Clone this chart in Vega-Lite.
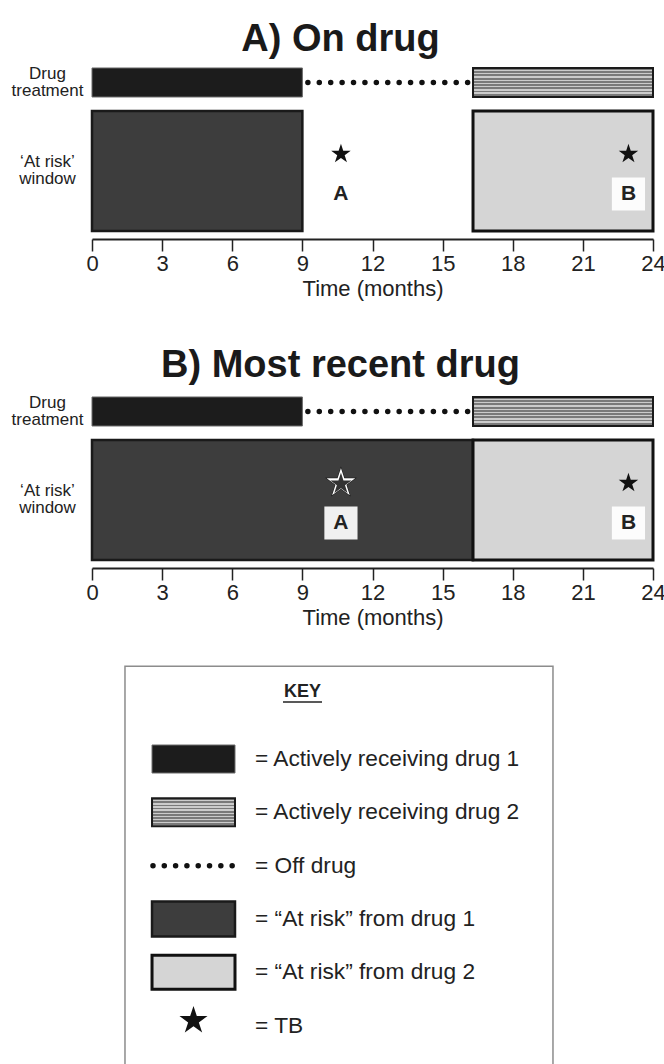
{
  "$schema": "https://vega.github.io/schema/vega-lite/v6.json",
  "background": "white",
  "padding": {"left": 11, "top": 21, "right": 0, "bottom": 0},
  "config": {
    "view": {"stroke": null},
    "font": "Liberation Sans",
    "text": {"font": "Liberation Sans", "color": "#222"},
    "title": {"font": "Liberation Sans"},
    "axis": {"labelFont": "Liberation Sans", "titleFont": "Liberation Sans"}
  },
  "datasets": {
    "periods": [
      {"panel": "A", "lane": "Drug treatment", "kind": "drug1", "month": 0, "until": 9},
      {"panel": "A", "lane": "Drug treatment", "kind": "off", "month": 9, "until": 16.3},
      {"panel": "A", "lane": "Drug treatment", "kind": "drug2", "month": 16.3, "until": 24},
      {"panel": "A", "lane": "At risk window", "kind": "risk1", "month": 0, "until": 9},
      {"panel": "A", "lane": "At risk window", "kind": "risk2", "month": 16.3, "until": 24},
      {"panel": "B", "lane": "Drug treatment", "kind": "drug1", "month": 0, "until": 9},
      {"panel": "B", "lane": "Drug treatment", "kind": "off", "month": 9, "until": 16.3},
      {"panel": "B", "lane": "Drug treatment", "kind": "drug2", "month": 16.3, "until": 24},
      {"panel": "B", "lane": "At risk window", "kind": "risk1", "month": 0, "until": 16.3},
      {"panel": "B", "lane": "At risk window", "kind": "risk2", "month": 16.3, "until": 24}
    ],
    "events": [
      {"panel": "A", "lane": "At risk window", "month": 10.65, "label": "A", "style": "solid"},
      {"panel": "A", "lane": "At risk window", "month": 22.95, "label": "B", "style": "solid"},
      {"panel": "B", "lane": "At risk window", "month": 10.65, "label": "A", "style": "hollow"},
      {"panel": "B", "lane": "At risk window", "month": 22.95, "label": "B", "style": "solid"}
    ],
    "key": [
      {"row": 1, "kind": "drug1", "label": "= Actively receiving drug 1"},
      {"row": 2, "kind": "drug2", "label": "= Actively receiving drug 2"},
      {"row": 3, "kind": "off", "label": "= Off drug"},
      {"row": 4, "kind": "risk1", "label": "= “At risk” from drug 1"},
      {"row": 5, "kind": "risk2", "label": "= “At risk” from drug 2"},
      {"row": 6, "kind": "tb", "label": "= TB"}
    ]
  },
  "spacing": 37,
  "vconcat": [
    {
      "title": {"text": "A) On drug", "fontSize": 38, "fontWeight": "bold", "color": "#1a1a1a", "anchor": "middle", "frame": "group", "dx": -32, "offset": -29, "baseline": "alphabetic"},
      "width": 561,
      "height": 179,
      "encoding": {
        "x": {"field": "month", "type": "quantitative", "scale": {"domain": [0, 24], "nice": false, "zero": false},
          "axis": {"values": [0, 3, 6, 9, 12, 15, 18, 21, 24], "format": "d", "title": "Time (months)", "titleFontSize": 22, "titleFontWeight": "normal", "titleColor": "#222", "titlePadding": 4, "labelFontSize": 22, "labelColor": "#222", "labelPadding": 2, "labelFlush": false, "labelOverlap": false, "tickSize": 12, "tickWidth": 1.5, "tickColor": "#222", "domainColor": "#222", "domainWidth": 2, "grid": false}},
        "y": {"field": "lane", "type": "nominal", "scale": {"type": "band", "domain": ["Drug treatment", "At risk window"], "paddingInner": 1, "paddingOuter": 0.5113, "align": 0.2486, "round": false},
          "axis": {"title": null, "domain": false, "ticks": false, "grid": false, "labelPadding": 45, "labelAlign": "center", "labelBaseline": "middle", "labelOffset": -8.5, "labelFontSize": 17, "labelLineHeight": 17, "labelColor": "#222", "labelExpr": "datum.value == 'Drug treatment' ? ['Drug', 'treatment'] : ['‘At risk’', 'window']"}}
      },
      "layer": [
        {"data": {"name": "periods"}, "transform": [{"filter": "datum.panel == 'A' && datum.kind == 'off'"}], "mark": {"type": "rule", "color": "#111", "strokeWidth": 5.5, "strokeCap": "round", "strokeDash": [0.01, 11.4], "strokeDashOffset": -5.5}, "encoding": {"x2": {"field": "until"}}},
        {"data": {"name": "periods"}, "transform": [{"filter": "datum.panel == 'A' && datum.kind == 'drug1'"}], "mark": {"type": "bar", "height": 29, "fill": "#1c1c1c", "stroke": "#6a6a6a", "strokeWidth": 1}, "encoding": {"x2": {"field": "until"}}},
        {"data": {"name": "periods"}, "transform": [{"filter": "datum.panel == 'A' && datum.kind == 'drug2'"}], "mark": {"type": "bar", "height": 29, "stroke": "#1a1a1a", "strokeWidth": 2,
          "fill": {"gradient": "linear", "x1": 0, "y1": 0, "x2": 0, "y2": 1, "stops": [
            {"offset": 0, "color": "#7a7a7a"}, {"offset": 0.065, "color": "#7a7a7a"}, {"offset": 0.065, "color": "#cccccc"}, {"offset": 0.1111, "color": "#cccccc"},
            {"offset": 0.1111, "color": "#7a7a7a"}, {"offset": 0.1761, "color": "#7a7a7a"}, {"offset": 0.1761, "color": "#cccccc"}, {"offset": 0.2222, "color": "#cccccc"},
            {"offset": 0.2222, "color": "#7a7a7a"}, {"offset": 0.2872, "color": "#7a7a7a"}, {"offset": 0.2872, "color": "#cccccc"}, {"offset": 0.3333, "color": "#cccccc"},
            {"offset": 0.3333, "color": "#7a7a7a"}, {"offset": 0.3983, "color": "#7a7a7a"}, {"offset": 0.3983, "color": "#cccccc"}, {"offset": 0.4444, "color": "#cccccc"},
            {"offset": 0.4444, "color": "#7a7a7a"}, {"offset": 0.5094, "color": "#7a7a7a"}, {"offset": 0.5094, "color": "#cccccc"}, {"offset": 0.5556, "color": "#cccccc"},
            {"offset": 0.5556, "color": "#7a7a7a"}, {"offset": 0.6206, "color": "#7a7a7a"}, {"offset": 0.6206, "color": "#cccccc"}, {"offset": 0.6667, "color": "#cccccc"},
            {"offset": 0.6667, "color": "#7a7a7a"}, {"offset": 0.7317, "color": "#7a7a7a"}, {"offset": 0.7317, "color": "#cccccc"}, {"offset": 0.7778, "color": "#cccccc"},
            {"offset": 0.7778, "color": "#7a7a7a"}, {"offset": 0.8428, "color": "#7a7a7a"}, {"offset": 0.8428, "color": "#cccccc"}, {"offset": 0.8889, "color": "#cccccc"},
            {"offset": 0.8889, "color": "#7a7a7a"}, {"offset": 0.9539, "color": "#7a7a7a"}, {"offset": 0.9539, "color": "#cccccc"}, {"offset": 1, "color": "#cccccc"}
          ]}}, "encoding": {"x2": {"field": "until"}}},
        {"data": {"name": "periods"}, "transform": [{"filter": "datum.panel == 'A' && datum.kind == 'risk1'"}], "mark": {"type": "bar", "height": 120, "fill": "#3d3d3d", "stroke": "#1a1a1a", "strokeWidth": 2.5}, "encoding": {"x2": {"field": "until"}}},
        {"data": {"name": "periods"}, "transform": [{"filter": "datum.panel == 'A' && datum.kind == 'risk2'"}], "mark": {"type": "bar", "height": 120, "fill": "#d5d5d5", "stroke": "#111", "strokeWidth": 3}, "encoding": {"x2": {"field": "until"}}},
        {"data": {"name": "events"}, "transform": [{"filter": "datum.panel == 'A'"}], "mark": {"type": "point", "shape": "square", "size": 1100, "filled": true, "fill": "white", "opacity": 0.92, "strokeWidth": 0, "yOffset": 23}, "encoding": {}},
        {"data": {"name": "events"}, "transform": [{"filter": "datum.panel == 'A' && datum.label == 'A'"}], "mark": {"type": "point", "shape": "square", "size": 4, "filled": true, "fill": "white", "opacity": 0, "strokeWidth": 0, "yOffset": 138}, "encoding": {}},
        {"data": {"name": "events"}, "transform": [{"filter": "datum.panel == 'A' && datum.style == 'hollow'"}], "mark": {"type": "point", "shape": "M0,-1L0.225,-0.309L0.951,-0.309L0.363,0.118L0.588,0.809L0,0.382L-0.588,0.809L-0.363,0.118L-0.951,-0.309L-0.225,-0.309Z", "size": 1100, "filled": true, "fill": "#111", "opacity": 1, "strokeWidth": 0, "yOffset": -17}, "encoding": {}},
        {"data": {"name": "events"}, "transform": [{"filter": "datum.panel == 'A' && datum.style == 'hollow'"}], "mark": {"type": "point", "shape": "M0,-1L0.225,-0.309L0.951,-0.309L0.363,0.118L0.588,0.809L0,0.382L-0.588,0.809L-0.363,0.118L-0.951,-0.309L-0.225,-0.309Z", "size": 910, "filled": true, "fill": "white", "opacity": 1, "strokeWidth": 0, "yOffset": -17}, "encoding": {}},
        {"data": {"name": "events"}, "transform": [{"filter": "datum.panel == 'A' && datum.style == 'hollow'"}], "mark": {"type": "point", "shape": "M0,-1L0.225,-0.309L0.951,-0.309L0.363,0.118L0.588,0.809L0,0.382L-0.588,0.809L-0.363,0.118L-0.951,-0.309L-0.225,-0.309Z", "size": 500, "filled": true, "fill": "#333", "opacity": 1, "strokeWidth": 0, "yOffset": -16}, "encoding": {}},
        {"data": {"name": "events"}, "transform": [{"filter": "datum.panel == 'A' && datum.style == 'solid'"}], "mark": {"type": "point", "shape": "M0,-1L0.225,-0.309L0.951,-0.309L0.363,0.118L0.588,0.809L0,0.382L-0.588,0.809L-0.363,0.118L-0.951,-0.309L-0.225,-0.309Z", "size": 420, "filled": true, "fill": "#111", "opacity": 1, "strokeWidth": 0, "yOffset": -17}, "encoding": {}},
        {"data": {"name": "events"}, "transform": [{"filter": "datum.panel == 'A'"}], "mark": {"type": "text", "fontSize": 21, "fontWeight": "bold", "baseline": "middle", "align": "center", "color": "#222", "yOffset": 23}, "encoding": {"text": {"field": "label"}}}
      ]
    },
    {
      "title": {"text": "B) Most recent drug", "fontSize": 38, "fontWeight": "bold", "color": "#1a1a1a", "anchor": "middle", "frame": "group", "dx": -32, "offset": -26, "baseline": "alphabetic"},
      "width": 561,
      "height": 179,
      "encoding": {
        "x": {"field": "month", "type": "quantitative", "scale": {"domain": [0, 24], "nice": false, "zero": false},
          "axis": {"values": [0, 3, 6, 9, 12, 15, 18, 21, 24], "format": "d", "title": "Time (months)", "titleFontSize": 22, "titleFontWeight": "normal", "titleColor": "#222", "titlePadding": 4, "labelFontSize": 22, "labelColor": "#222", "labelPadding": 2, "labelFlush": false, "labelOverlap": false, "tickSize": 12, "tickWidth": 1.5, "tickColor": "#222", "domainColor": "#222", "domainWidth": 2, "grid": false}},
        "y": {"field": "lane", "type": "nominal", "scale": {"type": "band", "domain": ["Drug treatment", "At risk window"], "paddingInner": 1, "paddingOuter": 0.5113, "align": 0.2486, "round": false},
          "axis": {"title": null, "domain": false, "ticks": false, "grid": false, "labelPadding": 45, "labelAlign": "center", "labelBaseline": "middle", "labelOffset": -8.5, "labelFontSize": 17, "labelLineHeight": 17, "labelColor": "#222", "labelExpr": "datum.value == 'Drug treatment' ? ['Drug', 'treatment'] : ['‘At risk’', 'window']"}}
      },
      "layer": [
        {"data": {"name": "periods"}, "transform": [{"filter": "datum.panel == 'B' && datum.kind == 'off'"}], "mark": {"type": "rule", "color": "#111", "strokeWidth": 5.5, "strokeCap": "round", "strokeDash": [0.01, 11.4], "strokeDashOffset": -5.5}, "encoding": {"x2": {"field": "until"}}},
        {"data": {"name": "periods"}, "transform": [{"filter": "datum.panel == 'B' && datum.kind == 'drug1'"}], "mark": {"type": "bar", "height": 29, "fill": "#1c1c1c", "stroke": "#6a6a6a", "strokeWidth": 1}, "encoding": {"x2": {"field": "until"}}},
        {"data": {"name": "periods"}, "transform": [{"filter": "datum.panel == 'B' && datum.kind == 'drug2'"}], "mark": {"type": "bar", "height": 29, "stroke": "#1a1a1a", "strokeWidth": 2,
          "fill": {"gradient": "linear", "x1": 0, "y1": 0, "x2": 0, "y2": 1, "stops": [
            {"offset": 0, "color": "#7a7a7a"}, {"offset": 0.065, "color": "#7a7a7a"}, {"offset": 0.065, "color": "#cccccc"}, {"offset": 0.1111, "color": "#cccccc"},
            {"offset": 0.1111, "color": "#7a7a7a"}, {"offset": 0.1761, "color": "#7a7a7a"}, {"offset": 0.1761, "color": "#cccccc"}, {"offset": 0.2222, "color": "#cccccc"},
            {"offset": 0.2222, "color": "#7a7a7a"}, {"offset": 0.2872, "color": "#7a7a7a"}, {"offset": 0.2872, "color": "#cccccc"}, {"offset": 0.3333, "color": "#cccccc"},
            {"offset": 0.3333, "color": "#7a7a7a"}, {"offset": 0.3983, "color": "#7a7a7a"}, {"offset": 0.3983, "color": "#cccccc"}, {"offset": 0.4444, "color": "#cccccc"},
            {"offset": 0.4444, "color": "#7a7a7a"}, {"offset": 0.5094, "color": "#7a7a7a"}, {"offset": 0.5094, "color": "#cccccc"}, {"offset": 0.5556, "color": "#cccccc"},
            {"offset": 0.5556, "color": "#7a7a7a"}, {"offset": 0.6206, "color": "#7a7a7a"}, {"offset": 0.6206, "color": "#cccccc"}, {"offset": 0.6667, "color": "#cccccc"},
            {"offset": 0.6667, "color": "#7a7a7a"}, {"offset": 0.7317, "color": "#7a7a7a"}, {"offset": 0.7317, "color": "#cccccc"}, {"offset": 0.7778, "color": "#cccccc"},
            {"offset": 0.7778, "color": "#7a7a7a"}, {"offset": 0.8428, "color": "#7a7a7a"}, {"offset": 0.8428, "color": "#cccccc"}, {"offset": 0.8889, "color": "#cccccc"},
            {"offset": 0.8889, "color": "#7a7a7a"}, {"offset": 0.9539, "color": "#7a7a7a"}, {"offset": 0.9539, "color": "#cccccc"}, {"offset": 1, "color": "#cccccc"}
          ]}}, "encoding": {"x2": {"field": "until"}}},
        {"data": {"name": "periods"}, "transform": [{"filter": "datum.panel == 'B' && datum.kind == 'risk1'"}], "mark": {"type": "bar", "height": 120, "fill": "#3d3d3d", "stroke": "#1a1a1a", "strokeWidth": 2.5}, "encoding": {"x2": {"field": "until"}}},
        {"data": {"name": "periods"}, "transform": [{"filter": "datum.panel == 'B' && datum.kind == 'risk2'"}], "mark": {"type": "bar", "height": 120, "fill": "#d5d5d5", "stroke": "#111", "strokeWidth": 3}, "encoding": {"x2": {"field": "until"}}},
        {"data": {"name": "events"}, "transform": [{"filter": "datum.panel == 'B'"}], "mark": {"type": "point", "shape": "square", "size": 1100, "filled": true, "fill": "white", "opacity": 0.92, "strokeWidth": 0, "yOffset": 23}, "encoding": {}},
        {"data": {"name": "events"}, "transform": [{"filter": "datum.panel == 'B' && datum.style == 'hollow'"}], "mark": {"type": "point", "shape": "M0,-1L0.225,-0.309L0.951,-0.309L0.363,0.118L0.588,0.809L0,0.382L-0.588,0.809L-0.363,0.118L-0.951,-0.309L-0.225,-0.309Z", "size": 1100, "filled": true, "fill": "#111", "opacity": 1, "strokeWidth": 0, "yOffset": -17}, "encoding": {}},
        {"data": {"name": "events"}, "transform": [{"filter": "datum.panel == 'B' && datum.style == 'hollow'"}], "mark": {"type": "point", "shape": "M0,-1L0.225,-0.309L0.951,-0.309L0.363,0.118L0.588,0.809L0,0.382L-0.588,0.809L-0.363,0.118L-0.951,-0.309L-0.225,-0.309Z", "size": 910, "filled": true, "fill": "white", "opacity": 1, "strokeWidth": 0, "yOffset": -17}, "encoding": {}},
        {"data": {"name": "events"}, "transform": [{"filter": "datum.panel == 'B' && datum.style == 'hollow'"}], "mark": {"type": "point", "shape": "M0,-1L0.225,-0.309L0.951,-0.309L0.363,0.118L0.588,0.809L0,0.382L-0.588,0.809L-0.363,0.118L-0.951,-0.309L-0.225,-0.309Z", "size": 500, "filled": true, "fill": "#333", "opacity": 1, "strokeWidth": 0, "yOffset": -16}, "encoding": {}},
        {"data": {"name": "events"}, "transform": [{"filter": "datum.panel == 'B' && datum.style == 'solid'"}], "mark": {"type": "point", "shape": "M0,-1L0.225,-0.309L0.951,-0.309L0.363,0.118L0.588,0.809L0,0.382L-0.588,0.809L-0.363,0.118L-0.951,-0.309L-0.225,-0.309Z", "size": 420, "filled": true, "fill": "#111", "opacity": 1, "strokeWidth": 0, "yOffset": -17}, "encoding": {}},
        {"data": {"name": "events"}, "transform": [{"filter": "datum.panel == 'B'"}], "mark": {"type": "text", "fontSize": 21, "fontWeight": "bold", "baseline": "middle", "align": "center", "color": "#222", "yOffset": 23}, "encoding": {"text": {"field": "label"}}}
      ]
    },
    {
      "width": 561,
      "height": 410,
      "data": {"name": "key"},
      "encoding": {
        "y": {"field": "row", "type": "quantitative", "scale": {"domain": [-0.65, 6.85], "reverse": true, "nice": false, "zero": false}, "axis": null}
      },
      "layer": [
        {"transform": [{"filter": "datum.row == 3"}], "mark": {"type": "bar", "height": 410, "fill": "white", "stroke": "#8c8c8c", "strokeWidth": 1.5, "yOffset": 5.5}, "encoding": {"x": {"datum": 5.88, "type": "quantitative", "scale": {"domain": [0, 100], "nice": false, "zero": false}, "axis": null}, "x2": {"datum": 82.17}}},
        {"mark": {"type": "text", "align": "left", "baseline": "middle", "fontSize": 22.7, "color": "#222"}, "encoding": {"x": {"datum": 29.06, "type": "quantitative", "scale": {"domain": [0, 100], "nice": false, "zero": false}, "axis": null}, "text": {"field": "label"}}},
        {"transform": [{"filter": "datum.kind == 'drug1'"}], "mark": {"type": "bar", "height": 28, "fill": "#1c1c1c", "stroke": "#6a6a6a", "strokeWidth": 1}, "encoding": {"x": {"datum": 10.7, "type": "quantitative", "scale": {"domain": [0, 100], "nice": false, "zero": false}, "axis": null}, "x2": {"datum": 25.49}}},
        {"transform": [{"filter": "datum.kind == 'drug2'"}], "mark": {"type": "bar", "height": 28, "stroke": "#1a1a1a", "strokeWidth": 2,
          "fill": {"gradient": "linear", "x1": 0, "y1": 0, "x2": 0, "y2": 1, "stops": [
            {"offset": 0, "color": "#7a7a7a"}, {"offset": 0.065, "color": "#7a7a7a"}, {"offset": 0.065, "color": "#cccccc"}, {"offset": 0.1111, "color": "#cccccc"},
            {"offset": 0.1111, "color": "#7a7a7a"}, {"offset": 0.1761, "color": "#7a7a7a"}, {"offset": 0.1761, "color": "#cccccc"}, {"offset": 0.2222, "color": "#cccccc"},
            {"offset": 0.2222, "color": "#7a7a7a"}, {"offset": 0.2872, "color": "#7a7a7a"}, {"offset": 0.2872, "color": "#cccccc"}, {"offset": 0.3333, "color": "#cccccc"},
            {"offset": 0.3333, "color": "#7a7a7a"}, {"offset": 0.3983, "color": "#7a7a7a"}, {"offset": 0.3983, "color": "#cccccc"}, {"offset": 0.4444, "color": "#cccccc"},
            {"offset": 0.4444, "color": "#7a7a7a"}, {"offset": 0.5094, "color": "#7a7a7a"}, {"offset": 0.5094, "color": "#cccccc"}, {"offset": 0.5556, "color": "#cccccc"},
            {"offset": 0.5556, "color": "#7a7a7a"}, {"offset": 0.6206, "color": "#7a7a7a"}, {"offset": 0.6206, "color": "#cccccc"}, {"offset": 0.6667, "color": "#cccccc"},
            {"offset": 0.6667, "color": "#7a7a7a"}, {"offset": 0.7317, "color": "#7a7a7a"}, {"offset": 0.7317, "color": "#cccccc"}, {"offset": 0.7778, "color": "#cccccc"},
            {"offset": 0.7778, "color": "#7a7a7a"}, {"offset": 0.8428, "color": "#7a7a7a"}, {"offset": 0.8428, "color": "#cccccc"}, {"offset": 0.8889, "color": "#cccccc"},
            {"offset": 0.8889, "color": "#7a7a7a"}, {"offset": 0.9539, "color": "#7a7a7a"}, {"offset": 0.9539, "color": "#cccccc"}, {"offset": 1, "color": "#cccccc"}
          ]}}, "encoding": {"x": {"datum": 10.7, "type": "quantitative", "scale": {"domain": [0, 100], "nice": false, "zero": false}, "axis": null}, "x2": {"datum": 25.49}}},
        {"transform": [{"filter": "datum.kind == 'off'"}], "mark": {"type": "rule", "color": "#111", "strokeWidth": 5.5, "strokeCap": "round", "strokeDash": [0.01, 11.3]}, "encoding": {"x": {"datum": 10.87, "type": "quantitative", "scale": {"domain": [0, 100], "nice": false, "zero": false}, "axis": null}, "x2": {"datum": 25.2}}},
        {"transform": [{"filter": "datum.kind == 'risk1'"}], "mark": {"type": "bar", "height": 35, "fill": "#3d3d3d", "stroke": "#1a1a1a", "strokeWidth": 2.5}, "encoding": {"x": {"datum": 10.7, "type": "quantitative", "scale": {"domain": [0, 100], "nice": false, "zero": false}, "axis": null}, "x2": {"datum": 25.49}}},
        {"transform": [{"filter": "datum.kind == 'risk2'"}], "mark": {"type": "bar", "height": 34, "fill": "#d5d5d5", "stroke": "#111", "strokeWidth": 3}, "encoding": {"x": {"datum": 10.7, "type": "quantitative", "scale": {"domain": [0, 100], "nice": false, "zero": false}, "axis": null}, "x2": {"datum": 25.49}}},
        {"transform": [{"filter": "datum.kind == 'tb'"}], "mark": {"type": "point", "shape": "M0,-1L0.225,-0.309L0.951,-0.309L0.363,0.118L0.588,0.809L0,0.382L-0.588,0.809L-0.363,0.118L-0.951,-0.309L-0.225,-0.309Z", "size": 870, "filled": true, "fill": "#111", "opacity": 1, "strokeWidth": 0, "yOffset": -5}, "encoding": {"x": {"datum": 18.09, "type": "quantitative", "scale": {"domain": [0, 100], "nice": false, "zero": false}, "axis": null}}},
        {"transform": [{"filter": "datum.row == 1"}], "mark": {"type": "text", "text": "KEY", "align": "center", "baseline": "middle", "fontSize": 18, "fontWeight": "bold", "color": "#222", "yOffset": -67}, "encoding": {"x": {"datum": 37.52, "type": "quantitative", "scale": {"domain": [0, 100], "nice": false, "zero": false}, "axis": null}}},
        {"transform": [{"filter": "datum.row == 1"}], "mark": {"type": "rule", "color": "#222", "strokeWidth": 1.5, "yOffset": -57}, "encoding": {"x": {"datum": 34.04, "type": "quantitative", "scale": {"domain": [0, 100], "nice": false, "zero": false}, "axis": null}, "x2": {"datum": 41.0}}}
      ]
    }
  ]
}
